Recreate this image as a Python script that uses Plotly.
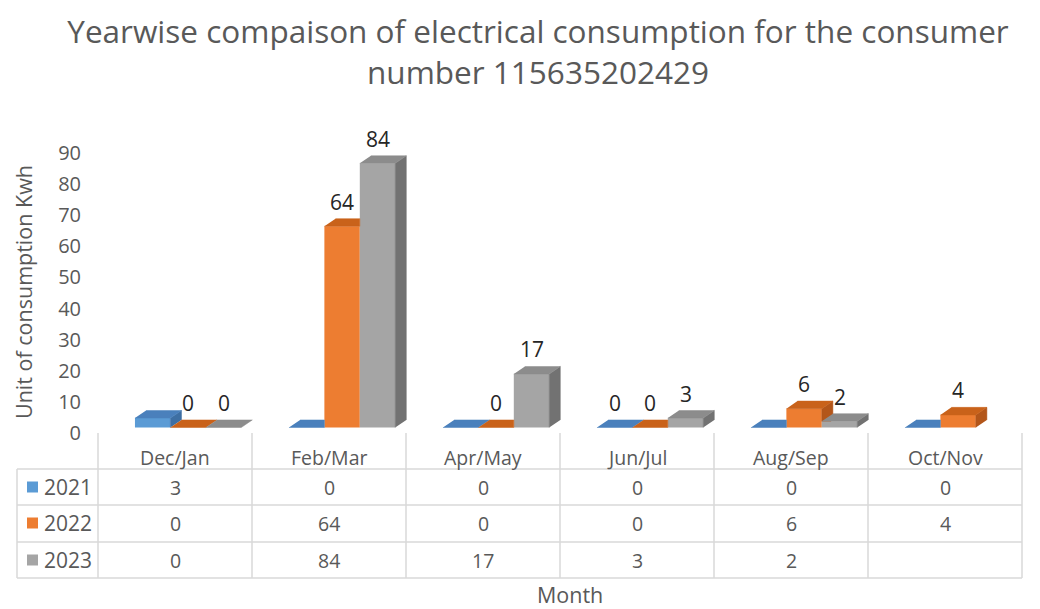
import plotly.graph_objects as go

# ---- data -------------------------------------------------------------
months = ["Dec/Jan", "Feb/Mar", "Apr/May", "Jun/Jul", "Aug/Sep", "Oct/Nov"]
years = ["2021", "2022", "2023"]
kwh_2021 = [3, 0, 0, 0, 0, 0]
kwh_2022 = [0, 64, 0, 0, 6, 4]
kwh_2023 = [0, 84, 17, 3, 2, None]
# which bars carry a value label above them
label_2021 = [False, False, False, True, False, False]
label_2022 = [True, True, True, True, True, True]
label_2023 = [True, True, True, True, True, False]

series = [kwh_2021, kwh_2022, kwh_2023]
labels = [label_2021, label_2022, label_2023]

# ---- styling ----------------------------------------------------------
FONT = "Open Sans"
TXT = "#595959"
GRID = "#D9D9D9"
front_col = ["#5B9BD5", "#ED7D31", "#A5A5A5"]
top_col = ["#4A80BC", "#C9621A", "#8C8C8C"]
side_col = ["#3E6FA3", "#B3561A", "#727272"]

W, H = 1040, 609
PL, PR, PT, PB = 98, 1022, 110, 433          # plot box in pixels
ZERO_PX, PX_PER_UNIT = 427.5, 3.145          # floor of the columns
Y1 = [-(PB - ZERO_PX) / PX_PER_UNIT, (ZERO_PX - PT) / PX_PER_UNIT]
Y2 = [0, (PB - PT) / (280 / 90)]             # tick axis: 0..90 over 280 px

BAR_W = 0.23
OFFS = [-0.26, -0.03, 0.20]
DX, DY = 0.072, 2.4                          # depth of the 3-D columns


def px(xp):
    return (xp - PL) / (PR - PL)


def py(yp):
    return (PB - yp) / (PB - PT)


def clip(poly, inside, cross):
    out = []
    n = len(poly)
    for k in range(n):
        a, b = poly[k - 1], poly[k]
        ia, ib = inside(a), inside(b)
        if ib:
            if not ia:
                out.append(cross(a, b))
            out.append(b)
        elif ia:
            out.append(cross(a, b))
    return out


def clip_x_le(poly, xc):
    return clip(poly, lambda p: p[0] <= xc,
                lambda a, b: (xc, a[1] + (b[1] - a[1]) * (xc - a[0]) / (b[0] - a[0])))


def clip_y_ge(poly, yc):
    return clip(poly, lambda p: p[1] >= yc,
                lambda a, b: (a[0] + (b[0] - a[0]) * (yc - a[1]) / (b[1] - a[1]), yc))


def add_polys(xs, ys, poly):
    if len(poly) < 3:
        return
    xs.extend([p[0] for p in poly] + [None])
    ys.extend([p[1] for p in poly] + [None])


fig = go.Figure()

# front faces
for s, vals in enumerate(series):
    fig.add_trace(go.Bar(
        x=list(range(len(months))), y=vals, name=years[s],
        width=BAR_W, offset=OFFS[s],
        marker=dict(color=front_col[s], line=dict(width=0)),
        yaxis="y", hoverinfo="skip", showlegend=False))

# top and side faces, series by series so nearer faces cover farther ones
for s, vals in enumerate(series):
    tx, ty, sx, sy = [], [], [], []
    for i, v in enumerate(vals):
        if v is None:
            continue
        x0 = i + OFFS[s]
        x1 = x0 + BAR_W
        nxt = series[s + 1][i] if s + 1 < len(series) else None
        h = nxt if nxt is not None else 0
        top = [(x0, v), (x1, v), (x1 + DX, v + DY), (x0 + DX, v + DY)]
        side = [(x1, 0), (x1, v), (x1 + DX, v + DY), (x1 + DX, DY)]
        if h <= v:
            add_polys(tx, ty, top)
        else:
            add_polys(tx, ty, clip_x_le(top, x1))
            add_polys(tx, ty, clip_y_ge(top, h))
        if v > h:
            add_polys(sx, sy, clip_y_ge(side, h))
    fig.add_trace(go.Scatter(x=sx, y=sy, mode="lines", fill="toself",
                             fillcolor=side_col[s], line=dict(color=side_col[s], width=0.5),
                             hoverinfo="skip", showlegend=False))
    fig.add_trace(go.Scatter(x=tx, y=ty, mode="lines", fill="toself",
                             fillcolor=top_col[s], line=dict(color=top_col[s], width=0.5),
                             hoverinfo="skip", showlegend=False))

# invisible trace that carries the tick axis
fig.add_trace(go.Scatter(x=[0], y=[0], yaxis="y2", mode="markers",
                         marker=dict(opacity=0), hoverinfo="skip", showlegend=False))

ann = []
shapes = []

# value labels
for s, vals in enumerate(series):
    for i, v in enumerate(vals):
        if v is None or not labels[s][i]:
            continue
        ann.append(dict(x=i + OFFS[s] + BAR_W / 2, y=v + DY, xref="x", yref="y",
                        text=str(v), showarrow=False, xanchor="center", yanchor="middle",
                        yshift=17, font=dict(family=FONT, size=21, color="#262626")))

# data table below the plot
col_edges = [PL + k * (PR - PL) / len(months) for k in range(len(months) + 1)]
row_lines = [469, 505, 542, 578]
row_mid = [487, 523, 560]
for xe in col_edges:
    shapes.append(dict(type="line", xref="paper", yref="paper",
                       x0=px(xe), x1=px(xe), y0=py(433), y1=py(578),
                       line=dict(color=GRID, width=1.5)))
shapes.append(dict(type="line", xref="paper", yref="paper",
                   x0=px(17), x1=px(17), y0=py(469), y1=py(578),
                   line=dict(color=GRID, width=1.5)))
for yl in row_lines:
    shapes.append(dict(type="line", xref="paper", yref="paper",
                       x0=px(17), x1=px(PR), y0=py(yl), y1=py(yl),
                       line=dict(color=GRID, width=1.5)))


def cell(xp, yp, text, size, anchor="center"):
    ann.append(dict(x=px(xp), y=py(yp), xref="paper", yref="paper", text=text,
                    xanchor=anchor, yanchor="middle", showarrow=False,
                    font=dict(family=FONT, size=size, color=TXT)))


for i, m in enumerate(months):
    xc = (col_edges[i] + col_edges[i + 1]) / 2
    cell(xc, 457, m, 19.5)
    for s, vals in enumerate(series):
        v = vals[i]
        cell(xc, row_mid[s], "" if v is None else str(v), 19.5)

for s, yr in enumerate(years):
    shapes.append(dict(type="rect", xref="paper", yref="paper",
                       x0=px(27), x1=px(38), y0=py(row_mid[s] + 5.5), y1=py(row_mid[s] - 5.5),
                       fillcolor=front_col[s], line=dict(width=0)))
    cell(42, row_mid[s], yr, 21, anchor="left")

# axis titles
cell(570, 594, "Month", 21.5)
ann.append(dict(x=px(23), y=py(292), xref="paper", yref="paper",
                text="Unit of consumption Kwh", textangle=-90, showarrow=False,
                xanchor="center", yanchor="middle",
                font=dict(family=FONT, size=21.5, color=TXT)))

fig.update_layout(
    width=W, height=H,
    margin=dict(l=PL, r=W - PR, t=PT, b=H - PB, autoexpand=False),
    paper_bgcolor="white", plot_bgcolor="white",
    barmode="overlay",
    title=dict(text="Yearwise compaison of electrical consumption for the consumer<br>number 115635202429",
               x=538 / W, xref="container", xanchor="center",
               y=1 - 43 / H, yref="container", yanchor="middle",
               font=dict(family=FONT, size=31.5, color=TXT)),
    xaxis=dict(range=[-0.5, len(months) - 0.5], showticklabels=False, showgrid=False,
               zeroline=False, showline=False, ticks=""),
    yaxis=dict(range=Y1, showticklabels=False, showgrid=False, zeroline=False,
               showline=False, ticks=""),
    yaxis2=dict(range=Y2, overlaying="y", side="left", tickvals=list(range(0, 100, 10)),
                showgrid=False, zeroline=False, showline=False, ticks="",
                ticklabelstandoff=16,
                tickfont=dict(family=FONT, size=20, color=TXT)),
    annotations=ann, shapes=shapes,
)

fig.write_html("out.html")
